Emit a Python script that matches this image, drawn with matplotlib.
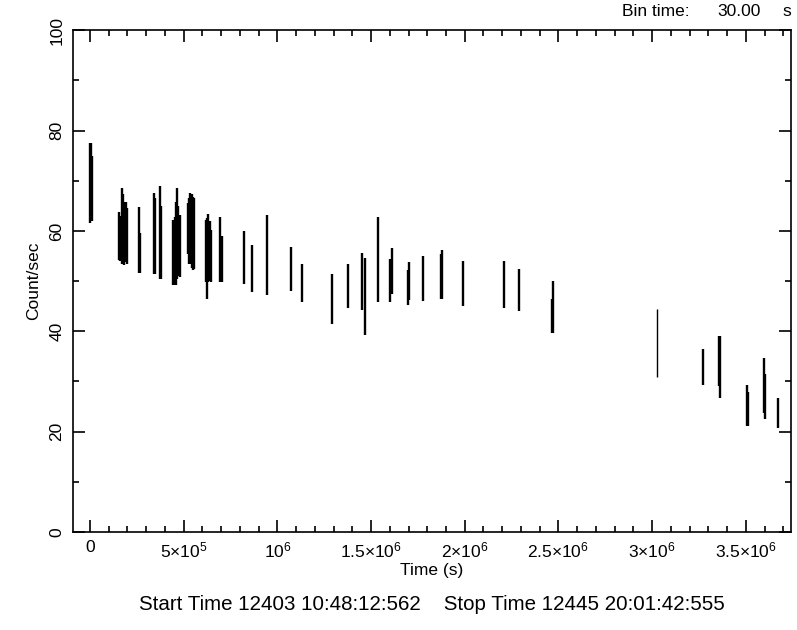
import matplotlib.pyplot as plt
from matplotlib.ticker import MultipleLocator

plt.rcParams['font.family'] = ['Liberation Sans', 'DejaVu Sans']
plt.rcParams['mathtext.fontset'] = 'custom'
plt.rcParams['mathtext.rm'] = 'Liberation Sans'
plt.rcParams['mathtext.it'] = 'Liberation Sans:italic'
plt.rcParams['mathtext.bf'] = 'Liberation Sans:bold'

# light curve bins: time (s), rate (count/s), 1-sigma error
time = [2e3, 6e3, 9e3,
        155e3, 162e3, 170e3, 176e3, 183e3, 190e3, 196e3,
        260e3, 266e3,
        341e3, 347e3, 372e3, 380e3,
        445e3, 452e3, 458e3, 464e3, 470e3, 478e3,
        521e3, 528e3, 535e3, 542e3, 549e3, 556e3,
        617e3, 624e3, 632e3, 640e3, 645e3,
        694e3, 706e3, 824e3, 864e3, 946e3, 1071e3, 1133e3,
        1290e3, 1379e3, 1453e3, 1466e3, 1539e3, 1601e3, 1611e3,
        1695e3, 1702e3, 1779e3, 1873e3, 1878e3, 1992e3,
        2211e3, 2287e3, 2466e3, 2469e3,
        3273e3, 3358e3, 3362e3, 3504e3, 3509e3, 3595e3, 3600e3, 3673e3]
rate = [69.5, 70.0, 68.5,
        59.0, 58.5, 61.0, 60.5, 59.5, 59.8, 59.0,
        58.2, 55.6,
        59.5, 59.0, 59.7, 57.7,
        55.7, 56.0, 57.5, 59.5, 58.0, 57.0,
        60.5, 60.0, 60.5, 60.0, 59.5, 59.5,
        56.0, 54.5, 56.6, 56.0, 55.0,
        56.3, 54.4, 54.7, 52.55, 55.15, 52.4, 49.65,
        46.45, 49.05, 49.95, 46.95, 54.3, 50.2, 52.0,
        48.75, 50.05, 50.55, 50.95, 51.3, 49.5,
        49.35, 48.25, 43.0, 44.8,
        32.85, 34.0, 32.9, 25.2, 24.45, 29.2, 27.0, 23.75]
err = [8.0, 7.5, 6.5,
       4.8, 4.5, 7.5, 6.8, 6.2, 6.0, 5.5,
       6.6, 4.0,
       8.0, 7.5, 9.3, 7.2,
       6.5, 6.8, 8.2, 9.0, 7.0, 6.1,
       5.0, 6.5, 7.0, 7.3, 7.3, 7.0,
       6.2, 8.1, 6.7, 6.0, 5.1,
       6.5, 4.5, 5.3, 4.65, 7.95, 4.3, 3.85,
       5.05, 4.45, 5.75, 7.75, 8.4, 4.3, 4.5,
       3.55, 3.85, 4.45, 4.55, 4.9, 4.5,
       4.65, 4.15, 3.4, 5.2,
       3.55, 5.0, 6.1, 4.1, 3.35, 5.4, 4.5, 3.05]

# single isolated bin drawn thinner
time_thin = [3027e3]
rate_thin = [37.65]
err_thin = [6.75]

fig = plt.figure(figsize=(7.97, 6.30), dpi=100)
ax = fig.add_axes([0.0912, 0.1556, 0.9008, 0.7964])

ax.errorbar(time, rate, yerr=err, fmt='none', ecolor='black',
            elinewidth=1.7, capsize=0)
ax.errorbar(time_thin, rate_thin, yerr=err_thin, fmt='none', ecolor='black',
            elinewidth=1.0, capsize=0)

ax.set_xlim(-92300, 3.739e6)
ax.set_ylim(0, 100)

xticks = [0, 5e5, 1e6, 1.5e6, 2e6, 2.5e6, 3e6, 3.5e6]
xlabels = ['0', r'$5{\times}10^{5}$', r'$10^{6}$', r'$1.5{\times}10^{6}$',
           r'$2{\times}10^{6}$', r'$2.5{\times}10^{6}$', r'$3{\times}10^{6}$',
           r'$3.5{\times}10^{6}$']
ax.set_xticks(xticks)
ax.set_xticklabels(xlabels, fontsize=12.5)
ax.xaxis.set_minor_locator(MultipleLocator(1e5))
ax.set_yticks([0, 20, 40, 60, 80, 100])
ax.set_yticklabels(['0', '20', '40', '60', '80', '100'], fontsize=12.5,
                   rotation=90, va='center')
ax.yaxis.set_minor_locator(MultipleLocator(10))

ax.tick_params(which='both', direction='in', top=True, right=True, width=1.2)
ax.tick_params(which='major', length=8.5)
ax.tick_params(which='minor', length=4.5)
ax.tick_params(axis='x', pad=6)
ax.tick_params(axis='y', pad=6)
for s in ax.spines.values():
    s.set_linewidth(1.2)

ax.set_xlabel('Time (s)', fontsize=12.5, labelpad=2)
ax.set_ylabel('Count/sec', fontsize=12.5, labelpad=6)

fig.text(0.780, 0.981, 'Bin time:', fontsize=12.5, ha='left', va='center')
fig.text(0.954, 0.981, '30.00', fontsize=12.5, ha='right', va='center')
fig.text(0.993, 0.981, 's', fontsize=12.5, ha='right', va='center')
fig.text(0.542, 0.041,
         'Start Time 12403 10:48:12:562    Stop Time 12445 20:01:42:555',
         fontsize=14.8, ha='center', va='center')

fig.savefig('out.png', dpi=100)
